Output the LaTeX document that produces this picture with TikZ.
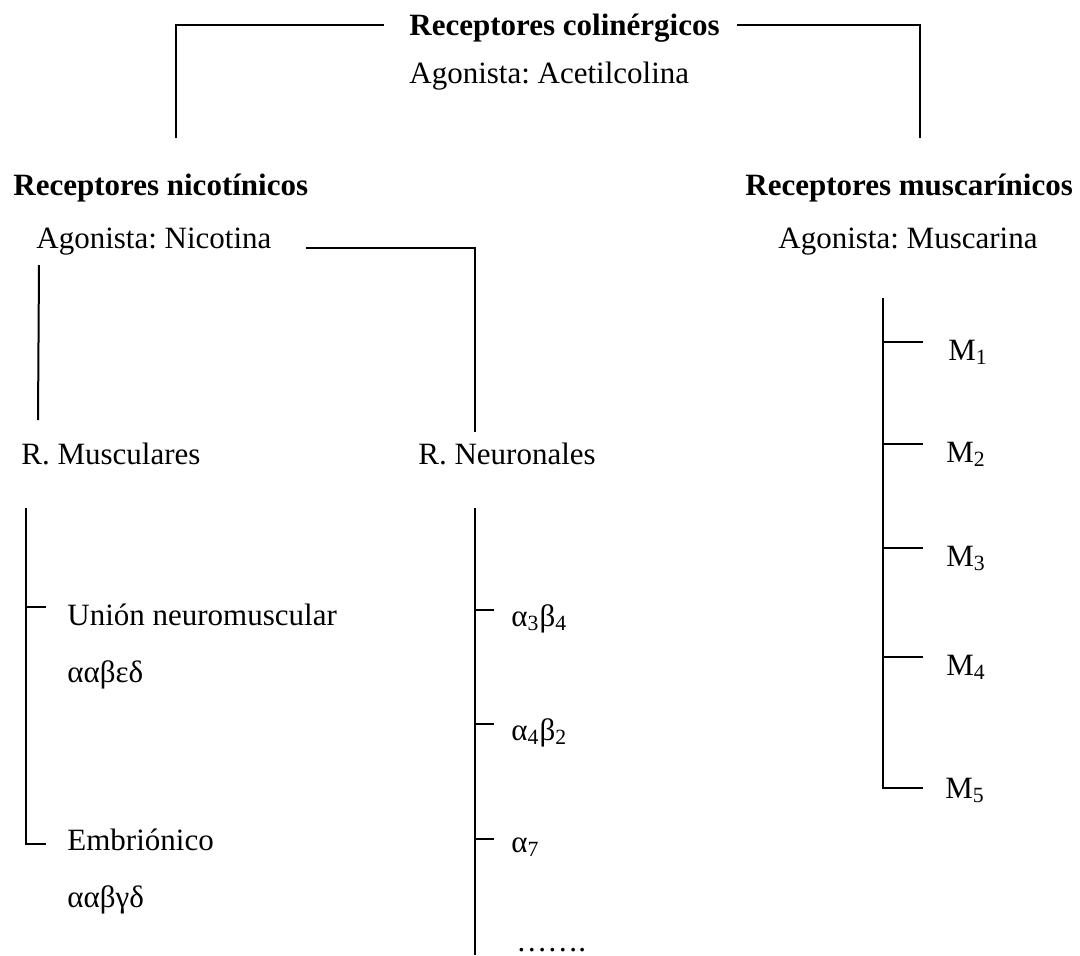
\documentclass[tikz,border=0pt]{standalone}
\usepackage{fontspec}
\setmainfont{Liberation Serif}
\frenchspacing

\begin{document}
\begin{tikzpicture}[x=0.5pt, y=-0.5pt,
  txt/.style={anchor=base west, inner sep=0pt, font=\fontsize{15.5}{18}\selectfont},
  titulo/.style={txt, font=\fontsize{15.5}{18}\selectfont\bfseries},
  rama/.style={line width=1pt}]
  \useasboundingbox (0,0) rectangle (1080,955);
  \node[titulo] (colin) at (409, 35) {Receptores colinérgicos};
  \node[txt] (acetil) at (409, 83) {Agonista: Acetilcolina};
  \node[titulo] (nicot) at (13, 195) {Receptores nicotínicos};
  \node[txt] (agnic) at (36, 248) {Agonista: Nicotina};
  \node[titulo] (musca) at (745, 195) {Receptores muscarínicos};
  \node[txt] (agmus) at (778, 248) {Agonista: Muscarina};
  \node[txt] (rmus) at (21, 464) {R. Musculares};
  \node[txt] (rneu) at (418, 464) {R. Neuronales};
  \node[txt] (union) at (67, 625) {Unión neuromuscular};
  \node[txt] (union2) at (67, 682) {ααβεδ};
  \node[txt] (embr) at (67, 850) {Embriónico};
  \node[txt] (embr2) at (67, 907) {ααβγδ};
  \node[txt] (a3b4) at (511, 626) {α\textsubscript{3}β\textsubscript{4}};
  \node[txt] (a4b2) at (511, 740) {α\textsubscript{4}β\textsubscript{2}};
  \node[txt] (a7) at (511, 852) {α\textsubscript{7}};
  \node[txt] (etc) at (516, 951) {…….};
  \node[txt] (m1) at (948, 360) {M\textsubscript{1}};
  \node[txt] (m2) at (946, 462) {M\textsubscript{2}};
  \node[txt] (m3) at (946, 566) {M\textsubscript{3}};
  \node[txt] (m4) at (946, 675) {M\textsubscript{4}};
  \node[txt] (m5) at (945, 798) {M\textsubscript{5}};
  \coordinate (colL) at (176, 25);
  \coordinate (colLb) at (176, 138);
  \coordinate (colLe) at (384, 25);
  \coordinate (colR) at (920, 25);
  \coordinate (colRb) at (920, 138);
  \coordinate (colRe) at (737, 25);
  \coordinate (nicA) at (306, 248);
  \coordinate (nicB) at (475, 248);
  \coordinate (nicBb) at (475, 432);
  \coordinate (nicC) at (39, 265);
  \coordinate (nicCb) at (38, 420);
  \coordinate (musT) at (26, 508);
  \coordinate (musB) at (26, 844);
  \coordinate (neuT) at (475, 508);
  \coordinate (neuB) at (475, 955);
  \coordinate (mT) at (883, 298);
  \coordinate (mB) at (883, 788);
  \draw[rama] (colLe) -- (colL) -- (colLb);
  \draw[rama] (colRe) -- (colR) -- (colRb);
  \draw[rama] (nicA) -- (nicB) -- (nicBb);
  \draw[rama] (nicC) -- (nicCb);
  \draw[rama] (musT) -- (musB) -- ++(20, 0);
  \draw[rama] (musT |- union) ++(0, -7) -- ++(20, 0);
  \draw[rama] (neuT) -- (neuB);
  \draw[rama] (neuT |- a3b4) ++(0, -8) -- ++(19, 0);
  \draw[rama] (neuT |- a4b2) ++(0, -8) -- ++(19, 0);
  \draw[rama] (neuT |- a7) ++(0, -8) -- ++(19, 0);
  \draw[rama] (mT) -- (mB) -- ++(40, 0);
  \draw[rama] (mT |- m1) ++(0, -10) -- ++(40, 0);
  \draw[rama] (mT |- m2) ++(0, -10) -- ++(40, 0);
  \draw[rama] (mT |- m3) ++(0, -10) -- ++(40, 0);
  \draw[rama] (mT |- m4) ++(0, -10) -- ++(40, 0);
\end{tikzpicture}
\end{document}
